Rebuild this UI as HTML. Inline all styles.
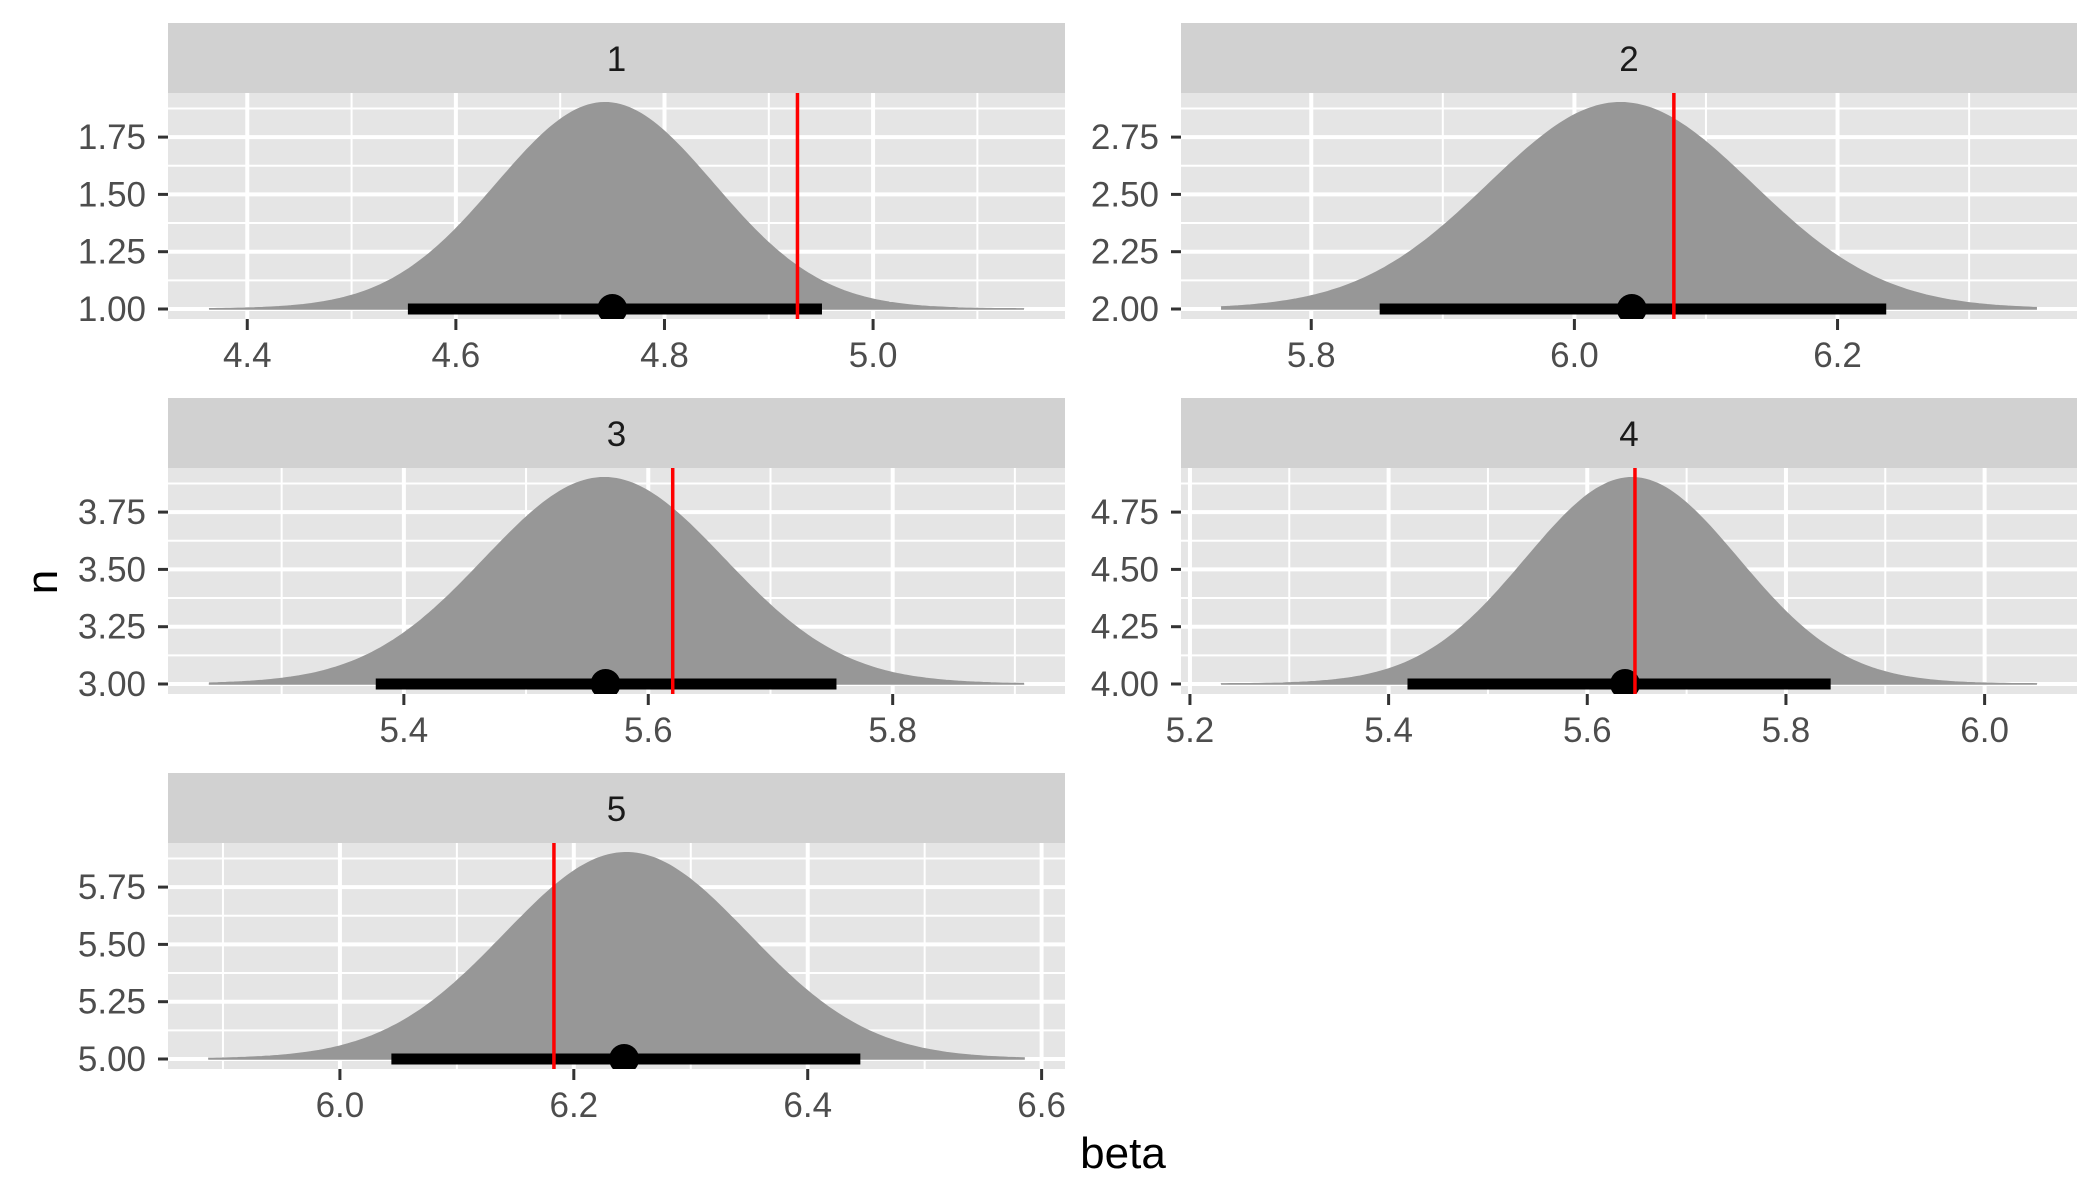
<!DOCTYPE html>
<html><head><meta charset="utf-8"><style>
html,body{margin:0;padding:0;background:#fff;}
svg{display:block;font-family:"Liberation Sans",Arial,sans-serif;}
</style></head><body>
<svg id="s" width="2100" height="1200" viewBox="0 0 2100 1200" xmlns="http://www.w3.org/2000/svg">
<rect width="2100" height="1200" fill="#fff"/>
<text x="1123" y="1168" font-size="44" text-anchor="middle" fill="#000">beta</text>
<text transform="translate(57,582) rotate(-90)" font-size="44" text-anchor="middle" fill="#000">n</text>
</svg>
<script>
const S=document.getElementById('s');let h='';
const cols=[[168,1065],[1181,2077]],rows=[23,398,773];
const P=[
 {k:1,c:0,r:0,x0:4.324,x1:5.184,ticks:[4.4,4.6,4.8,5.0],red:4.9275,dot:4.75,lo:4.554,hi:4.951,d0:4.364,d1:5.144,m:4.743,sd:0.104},
 {k:2,c:1,r:0,x0:5.701,x1:6.382,ticks:[5.8,6.0,6.2],red:6.0756,dot:6.0436,lo:5.852,hi:6.237,d0:5.732,d1:6.351,m:6.035,sd:0.1},
 {k:3,c:0,r:1,x0:5.207,x1:5.941,ticks:[5.4,5.6,5.8],red:5.62,dot:5.565,lo:5.377,hi:5.754,d0:5.241,d1:5.907,m:5.564,sd:0.098},
 {k:4,c:1,r:1,x0:5.191,x1:6.093,ticks:[5.2,5.4,5.6,5.8,6.0],red:5.648,dot:5.638,lo:5.419,hi:5.845,d0:5.232,d1:6.052,m:5.645,sd:0.107},
 {k:5,c:0,r:2,x0:5.853,x1:6.62,ticks:[6.0,6.2,6.4,6.6],red:6.183,dot:6.243,lo:6.044,hi:6.445,d0:5.888,d1:6.585,m:6.245,sd:0.104}
];
P.forEach(p=>{
 const L=cols[p.c][0],R=cols[p.c][1],T=rows[p.r]+70,B=rows[p.r]+296,base=T+216,u=57.3/0.25;
 const X=v=>L+(v-p.x0)/(p.x1-p.x0)*(R-L),Y=v=>base-(v-p.k)*u;
 const id='c'+p.k;
 h+=`<rect x="${L}" y="${rows[p.r]}" width="${R-L}" height="70" fill="#D1D1D1"/>`;
 h+=`<text x="${(L+R)/2}" y="${rows[p.r]+48}" font-size="35" text-anchor="middle" fill="#1A1A1A">${p.k}</text>`;
 h+=`<clipPath id="${id}"><rect x="${L}" y="${T}" width="${R-L}" height="${B-T}"/></clipPath>`;
 h+=`<g clip-path="url(#${id})"><rect x="${L}" y="${T}" width="${R-L}" height="${B-T}" fill="#E5E5E5"/>`;
 for(let v=p.k-0.125;v<p.k+1;v+=0.25)h+=`<line x1="${L}" x2="${R}" y1="${Y(v)}" y2="${Y(v)}" stroke="#fff" stroke-width="2"/>`;
 for(let v=Math.ceil(p.x0*10)/10;v<p.x1;v+=0.1){v=Math.round(v*10)/10;const maj=Math.abs(v*5-Math.round(v*5))<1e-6;h+=`<line x1="${X(v)}" x2="${X(v)}" y1="${T}" y2="${B}" stroke="#fff" stroke-width="${maj?4:2}"/>`;}
 for(let i=0;i<4;i++){const v=p.k+i*0.25;h+=`<line x1="${L}" x2="${R}" y1="${Y(v)}" y2="${Y(v)}" stroke="#fff" stroke-width="4"/>`;}
 let d=`M${X(p.d0)},${base}`;
 for(let i=0;i<=200;i++){const v=p.d0+(p.d1-p.d0)*i/200;const g=0.9*Math.exp(-((v-p.m)**2)/(2*p.sd*p.sd));d+=`L${X(v).toFixed(1)},${(base-g*u).toFixed(1)}`;}
 d+=`L${X(p.d1)},${base}Z`;
 h+=`<path d="${d}" fill="#979797" stroke="#979797" stroke-width="1.5"/>`;
 h+=`<rect x="${X(p.lo)}" y="${base-5.5}" width="${X(p.hi)-X(p.lo)}" height="11" fill="#000"/>`;
 h+=`<circle cx="${X(p.dot)}" cy="${base}" r="15" fill="#000"/>`;
 h+=`<line x1="${X(p.red)}" x2="${X(p.red)}" y1="${T}" y2="${B}" stroke="#FF0000" stroke-width="3.5"/></g>`;
 for(let i=0;i<4;i++){const v=p.k+i*0.25;h+=`<line x1="${L-10}" x2="${L}" y1="${Y(v)}" y2="${Y(v)}" stroke="#333" stroke-width="3"/><text x="${L-22}" y="${Y(v)+12}" font-size="35" text-anchor="end" fill="#4D4D4D">${v.toFixed(2)}</text>`;}
 p.ticks.forEach(v=>{h+=`<line x1="${X(v)}" x2="${X(v)}" y1="${B}" y2="${B+11}" stroke="#333" stroke-width="3"/><text x="${X(v)}" y="${B+48}" font-size="35" text-anchor="middle" fill="#4D4D4D">${v.toFixed(1)}</text>`;});
});
S.insertAdjacentHTML('beforeend',h);
</script>
</body></html>
